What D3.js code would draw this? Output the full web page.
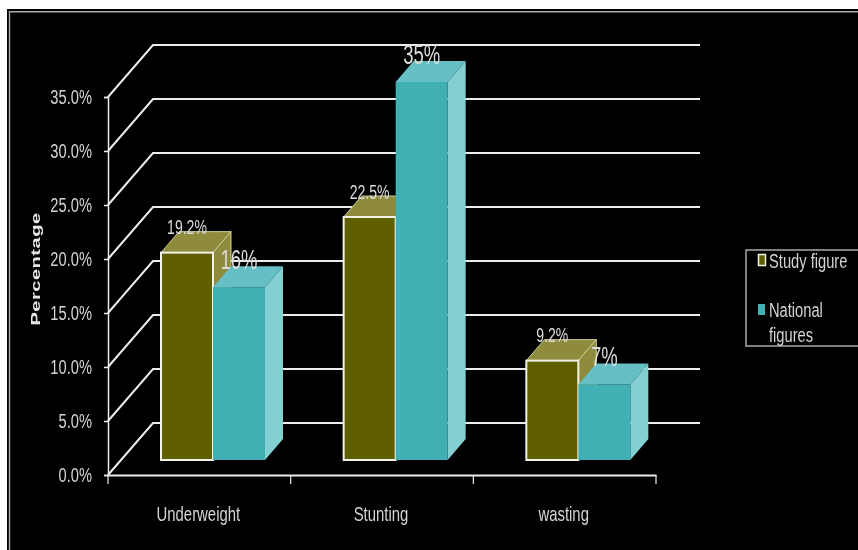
<!DOCTYPE html>
<html><head><meta charset="utf-8"><style>html,body{margin:0;padding:0;background:#fff}svg{display:block}text{font-family:"Liberation Sans",Arial,sans-serif}</style>
<script src="https://cdn.jsdelivr.net/npm/d3@7/dist/d3.min.js"></script></head><body><script>
const categories=["Underweight","Stunting","wasting"];
const seriesNames=["Study figure","National figures"];
const studyValues=[19.2,22.5,9.2];
const nationalValues=[16,35,7];
const studyLabels=["19.2%","22.5%","9.2%"];
const nationalLabels=["16%","35%","7%"];
const yTicks=[0,5,10,15,20,25,30,35];

const W=858,H=550;
const svg=d3.select("body").append("svg").attr("width",W).attr("height",H);
const defs=svg.append("defs");
defs.append("filter").attr("id","soft").attr("x","-10%").attr("y","-10%").attr("width","120%").attr("height","120%")
  .append("feGaussianBlur").attr("stdDeviation",0.55);
svg.append("rect").attr("width",W).attr("height",H).attr("fill","#fff");
svg.append("rect").attr("x",7).attr("y",9).attr("width",W-7).attr("height",H-9).attr("fill","#000");
svg.append("path").attr("d",`M9.5 ${H}V11.8H${W}`).attr("fill","none").attr("stroke","#aaa").attr("stroke-width",1.4);

const root=svg.append("g").attr("filter","url(#soft)");
const y=d3.scaleLinear().domain([0,35]).range([475,97]);
const x=d3.scaleBand().domain(categories).range([108,656]);
const inner=d3.scaleBand().domain([0,1]).range([53,157]);
const gridDx=45,gridDy=-52,gridRight=700;
const barDx=18,barDy=-21,barBase=-15;
const lineCol="#ececec",textCol="#d4d4d4";
const narrow=(sel,px,py,sx)=>sel.attr("transform",`translate(${px},${py}) scale(${sx},1)`);

// gridlines
const grid=root.append("g");
yTicks.forEach(t=>{
  grid.append("path").attr("fill","none").attr("stroke",lineCol).attr("stroke-width",2)
   .attr("d",`M${x.range()[0]} ${y(t)}L${x.range()[0]+gridDx} ${y(t)+gridDy}H${gridRight}`);
});
// axes
const ax=root.append("g").attr("transform","translate(108,0)")
  .call(d3.axisLeft(y).tickValues(yTicks).tickSize(4).tickFormat(d=>d3.format(".1f")(d)+"%"));
ax.select(".domain").attr("stroke",lineCol).attr("stroke-width",1.5);
ax.selectAll("line").attr("stroke",lineCol).attr("stroke-width",1.5);
ax.selectAll("text").attr("fill",textCol).attr("font-size",21).attr("text-anchor","end").attr("x",null).attr("y",null).attr("dy","0.31em")
  .attr("transform",`translate(-16,0) scale(0.7,1)`);
const bx=root.append("g").attr("transform","translate(0,475)")
  .call(d3.axisBottom(x).tickSize(0).tickFormat(""));
bx.select(".domain").attr("stroke",lineCol).attr("stroke-width",2);
root.append("g").selectAll("line").data(categories.concat("end")).join("line")
  .attr("x1",(d,i)=>108+i*x.bandwidth()).attr("x2",(d,i)=>108+i*x.bandwidth())
  .attr("y1",475).attr("y2",484).attr("stroke",lineCol).attr("stroke-width",1.2);
root.append("g").selectAll("text").data(categories).join("text")
  .attr("text-anchor","middle").attr("fill",textCol).attr("font-size",21).text(d=>d)
  .each(function(d){narrow(d3.select(this),x(d)+x.bandwidth()/2-1,521,0.71)});
root.append("text").attr("transform","translate(40,269) rotate(-90) scale(1.55,1)").attr("text-anchor","middle")
  .attr("fill","#e6e6e6").attr("font-size",13).attr("font-weight","bold").attr("letter-spacing",0.3).text("Percentage");

// bars
const styles=[{front:"#5f5f00",side:"#8f8b3e",top:"#8f8b3e",stroke:"#f2f2e6",edge:"#cfcd9a"},{front:"#40b0b5",side:"#84cfd2",top:"#66bfc4",stroke:"none",edge:"none"}];
[studyValues,nationalValues].forEach((vals,s)=>{
  const st=styles[s],g=root.append("g");
  const w=inner.bandwidth();
  vals.forEach((v,i)=>{
    const x0=x(categories[i])+inner(s),yt=y(v)+barBase,yb=y(0)+barBase;
    g.append("path").attr("d",`M${x0} ${yt}L${x0+barDx} ${yt+barDy}H${x0+w+barDx}L${x0+w} ${yt}Z`).attr("fill",st.top).attr("stroke",st.edge).attr("stroke-width",1);
    g.append("path").attr("d",`M${x0+w} ${yt}L${x0+w+barDx} ${yt+barDy}V${yb+barDy}L${x0+w} ${yb}Z`).attr("fill",st.side).attr("stroke",st.edge).attr("stroke-width",1);
  });
  g.selectAll("rect").data(vals).join("rect")
   .attr("x",(v,i)=>x(categories[i])+inner(s)).attr("y",v=>y(v)+barBase)
   .attr("width",w).attr("height",v=>y(0)-y(v))
   .attr("fill",st.front).attr("stroke",st.stroke).attr("stroke-width",st.stroke==="none"?0:2);
});
// data labels
[[studyValues,studyLabels,21,0.67,-26],[nationalValues,nationalLabels,28,0.66,-28]].forEach(([vals,labs,fs,sx,off],s)=>{
  root.append("g").selectAll("text").data(vals).join("text")
   .attr("dy","0.36em").attr("text-anchor","middle")
   .attr("fill","#dcdcdc").attr("font-size",fs).text((v,i)=>labs[i])
   .each(function(v){const i=vals.indexOf(v);
     narrow(d3.select(this),x(categories[i])+inner(s)+inner.bandwidth()/2,y(v)+barBase+off,sx)});
});
// legend
const leg=root.append("g");
leg.append("rect").attr("x",746).attr("y",250).attr("width",120).attr("height",96).attr("fill","#000").attr("stroke","#aaa").attr("stroke-width",1.5);
leg.append("rect").attr("x",758.5).attr("y",254.5).attr("width",7).attr("height",11).attr("fill",styles[0].front).attr("stroke",styles[0].stroke).attr("stroke-width",1.5);
leg.append("rect").attr("x",758).attr("y",304).attr("width",7).attr("height",11).attr("fill",styles[1].front);
const nat=seriesNames[1].split(" ");
[[seriesNames[0],268],[nat[0],317],[nat[1],342]].forEach(([t,py])=>{
  narrow(leg.append("text").attr("fill",textCol).attr("font-size",21).text(t),769,py,0.7);
});
</script></body></html>
